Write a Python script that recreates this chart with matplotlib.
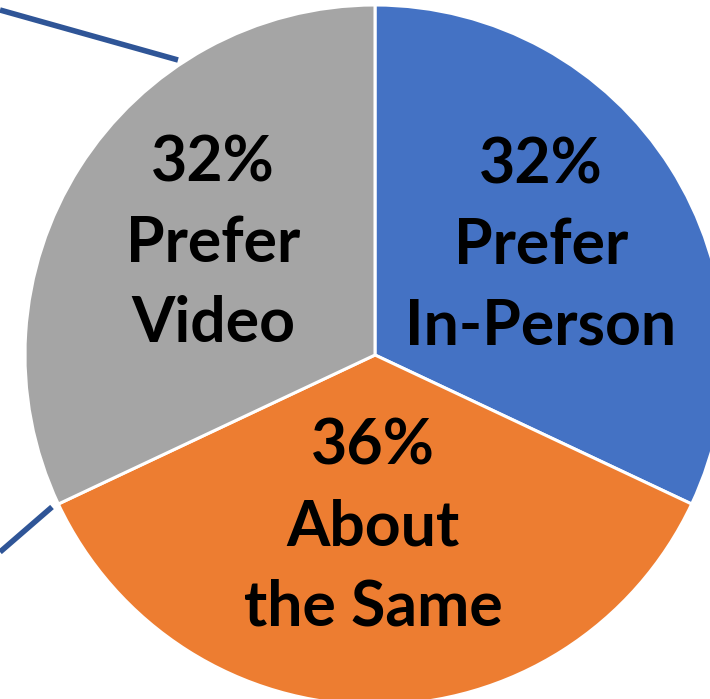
import matplotlib
matplotlib.use('Agg')
import matplotlib.pyplot as plt

# share of respondents by preference
labels = ["Prefer\nIn-Person", "About\nthe Same", "Prefer\nVideo"]
values = [32, 36, 32]
colors = ["#4472C4", "#ED7D31", "#A5A5A5"]

W, H = 710, 699
fig = plt.figure(figsize=(W / 100, H / 100), dpi=100)
ax = fig.add_axes([0, 0, 1, 1])

wedges, _ = ax.pie(values, colors=colors, startangle=90, counterclock=False,
                   center=(375, H - 355), radius=350, frame=True,
                   wedgeprops=dict(edgecolor="white", linewidth=2.2))

# label text positions (pixel coords, y from top)
text_pos = [(541, 246), (373, 527), (213, 244)]
for (x, y), v, lab in zip(text_pos, values, labels):
    ax.text(x, H - y, f"{v}%\n{lab}", ha="center", va="center",
            fontsize=45, fontweight="bold", family="Lato",
            linespacing=1.47, color="black")

# connector lines towards the secondary chart
ax.plot([0, 178], [H - 10, H - 60], color="#2F5597", lw=4, solid_capstyle="butt")
ax.plot([0, 52], [H - 552, H - 507], color="#2F5597", lw=4, solid_capstyle="butt")

ax.set_xlim(0, W)
ax.set_ylim(0, H)
ax.axis("off")

plt.savefig("out.png", dpi=100)
